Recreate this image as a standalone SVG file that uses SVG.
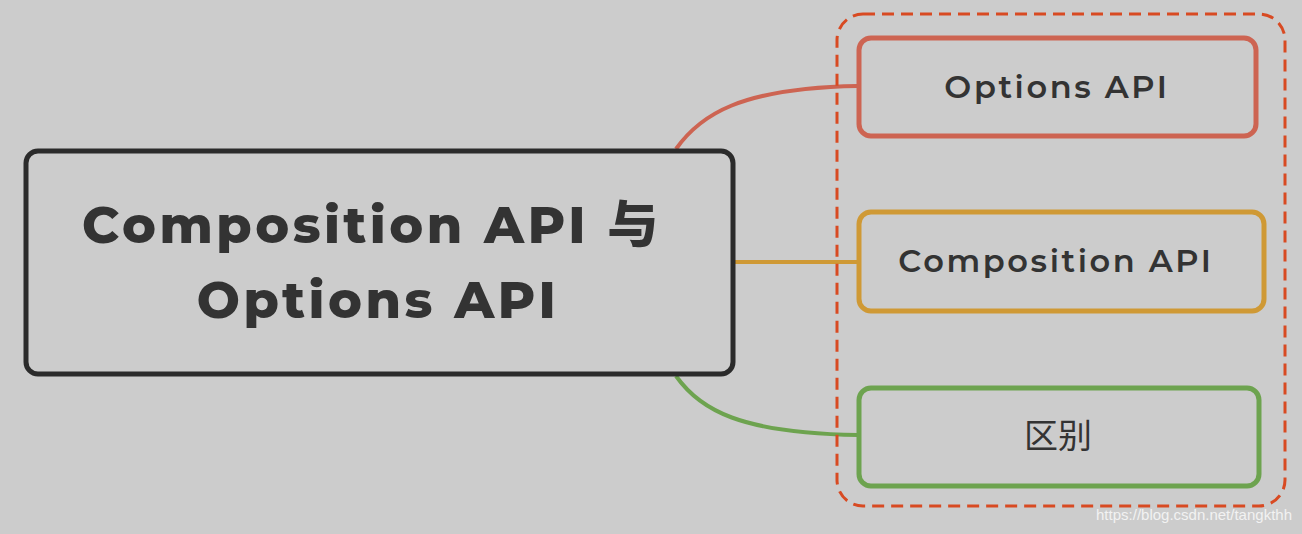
<svg xmlns="http://www.w3.org/2000/svg" width="1302" height="534" viewBox="0 0 1302 534">
<style>
.box{fill:none;stroke-width:5}
.t{font-family:Montserrat,"Open Sans","Noto Sans CJK SC",sans-serif;fill:#333;text-anchor:middle}
.s{font-size:32px;font-weight:600;letter-spacing:2.6px}
.c{fill:none;stroke-width:4}
</style>
<rect width="1302" height="534" fill="#cccccc"/>
<g id="connectors">
<path class="c" stroke="#cd6452" d="M676,149 C700,115 740,88 858,86"/>
<path class="c" stroke="#cf9935" d="M734,262 L858,262"/>
<path class="c" stroke="#6da34f" d="M676,376 C700,410 740,433 858,435"/>
</g>
<g id="group-frame"><rect x="837" y="14" width="448" height="492" rx="26" fill="none" stroke="#d84a22" stroke-width="3" stroke-dasharray="12,7"/></g>
<g id="main"><rect x="26" y="151" width="707" height="223" rx="12" fill="#cccccc" stroke="#2b2b2b" stroke-width="5"/>
<text class="t" x="372" y="243" font-size="51" font-weight="800" letter-spacing="3.5">Composition API 与</text>
<text class="t" x="378" y="318" font-size="51" font-weight="800" letter-spacing="3.5">Options API</text></g>
<g id="options"><rect class="box" x="859" y="38" width="397" height="98" rx="12" stroke="#cd6452"/><text class="t s" x="1057" y="98">Options API</text></g>
<g id="composition"><rect class="box" x="859" y="212" width="405" height="99" rx="12" stroke="#cf9935"/><text class="t s" x="1056" y="272">Composition API</text></g>
<g id="diff"><rect class="box" x="859" y="388" width="400" height="98" rx="12" stroke="#6da34f"/><text class="t" x="1058" y="448" font-size="34">区别</text></g>
<text x="1292" y="520" font-family="Liberation Sans,sans-serif" font-size="15" fill="#f2f2f2" text-anchor="end">https://blog.csdn.net/tangkthh</text>
</svg>
